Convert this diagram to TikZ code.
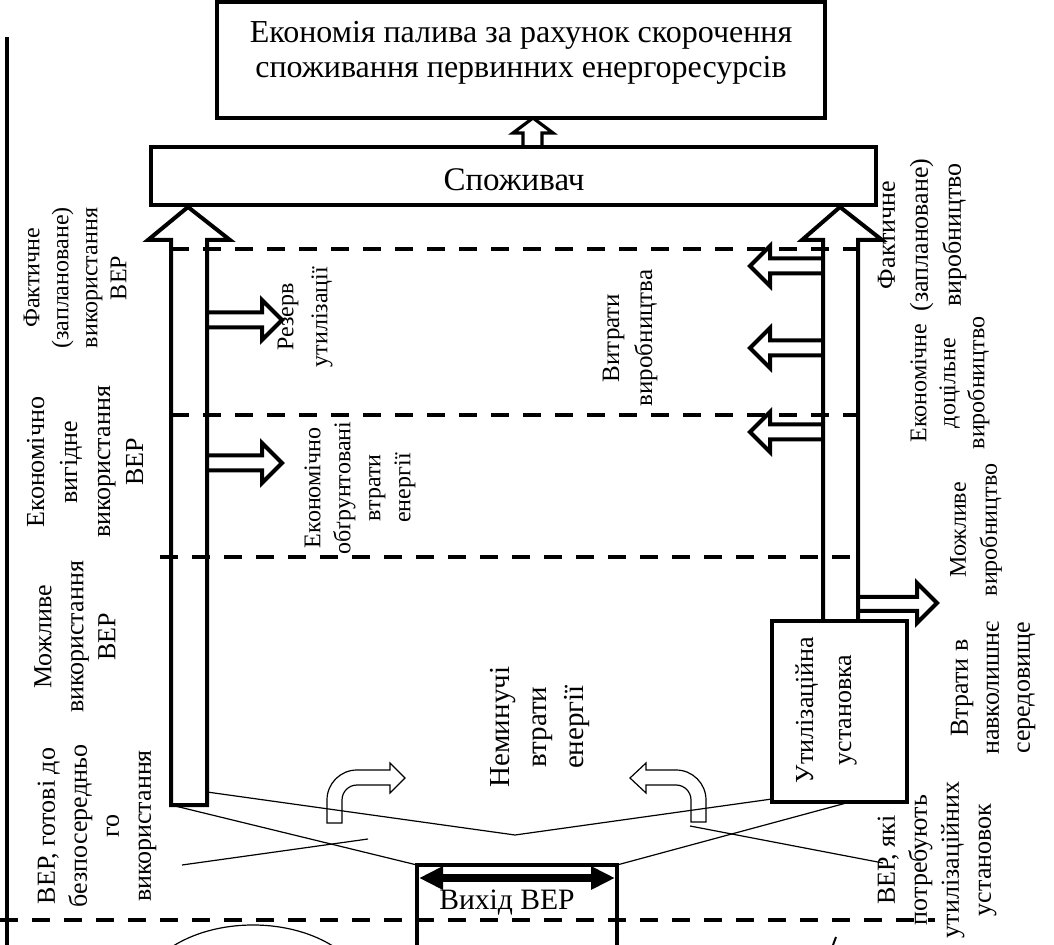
\documentclass[tikz,border=0pt]{standalone}
\usepackage{fontspec}
\setmainfont{Liberation Serif}
\usetikzlibrary{arrows.meta}

\newcommand{\fs}[2]{\fontsize{#1}{#2}\selectfont}

\tikzset{
  thickline/.style={line width=2pt},
  thinline/.style={line width=0.6pt},
  levelline/.style={line width=2.2pt, dash pattern=on 9pt off 7pt},
  box/.style={draw, line width=2.2pt, inner sep=0pt},
  vlabel/.style={rotate=90, align=center, inner sep=0pt},
}

\begin{document}
\begin{tikzpicture}[x=0.5pt,y=-0.5pt]
        \useasboundingbox (0,0) rectangle (1054,945);

        % boxes
        \node[box, minimum width=304pt, minimum height=58pt] (econ) at (521,60) {};
        \node[align=center, font=\fs{16}{17.5}] (econtext) at (521,53)
            {Економія палива за рахунок скорочення\\споживання первинних енергоресурсів};
        \node[box, minimum width=362.5pt, minimum height=29pt] (consumer) at (513.5,176) {};
        \node[font=\fs{16.5}{18}] (consumertext) at (514,180) {Споживач};
        \node[box, minimum width=67.5pt, minimum height=90.5pt] (util) at (839.5,711.5) {};
        \node[vlabel, font=\fs{13}{19}] (utiltext) at (826,710) {Утилізаційна\\установка};

        % left frame line
        \draw[thickline] (7,37) -- (7,945);

        % level lines
        \draw[levelline] (171,249) -- (860,249);
        \draw[levelline] (171,415) -- (860,415);
        \draw[levelline] (160,557) -- (850,557);
        \draw[levelline] (0,920) -- (935,920);

        % small arrow up to the top box
        \draw[line width=1.6pt] (523,145) -- (523,133) -- (513,133) -- (533,118) -- (553,133) -- (542,133) -- (542,145);

        % big arrows
        \draw[thickline] (171,805) -- (171,240) -- (148,240) -- (188,207) -- (230,240) -- (207,240) -- (207,805) -- cycle;
        \draw[thickline] (823,621) -- (823,240) -- (802,240) -- (840,207) -- (882,240) -- (858,240) -- (858,621);

        % side arrows
        \foreach \c in {320,463}
            \draw[thickline] (207,\c-7.5) -- (262,\c-7.5) -- (262,\c-20) -- (282,\c) -- (262,\c+20) -- (262,\c+7.5) -- (207,\c+7.5);
        \foreach \c in {266,348,432}
            \draw[thickline] (823,\c-7.5) -- (770,\c-7.5) -- (770,\c-20) -- (750,\c) -- (770,\c+20) -- (770,\c+7.5) -- (823,\c+7.5);
        \draw[thickline] (858,597) -- (917,597) -- (917,583) -- (937,603) -- (917,623) -- (917,611) -- (858,611);

        % bent arrows
        \draw[thinline] (327,823) -- (327,800) arc[start angle=180, end angle=270, radius=30] -- (390,770) -- (390,763) -- (405,778)
            -- (390,793) -- (390,785) -- (357,785) arc[start angle=270, end angle=180, radius=15] -- (342,823) -- cycle;
        \draw[thinline] (706,822) -- (706,800) arc[start angle=0, end angle=-90, radius=30] -- (646,770) -- (646,763) -- (630,778)
            -- (646,793) -- (646,785) -- (676,785) arc[start angle=-90, end angle=0, radius=15] -- (691,822) -- cycle;

        % output block
        \coordinate (outL) at (417,865);
        \coordinate (outR) at (617,865);
        \draw[thickline] (417,945) -- (outL) -- (outR) -- (617,945);
        \draw[line width=4pt, {Triangle[length=12pt,width=11pt]}-{Triangle[length=12pt,width=11pt]}] (419,878) -- (615,878);
        \node[font=\fs{14.8}{16}] (outtext) at (507,903) {Вихід ВЕР};

        % funnel lines
        \coordinate (lbot) at (171,805);
        \coordinate (rside) at (207,792);
        \coordinate (vtip) at (515,835);
        \coordinate (utilL) at (772,799);
        \coordinate (utilB) at (850,802);
        \draw[thinline] (lbot) -- (outL);
        \draw[thinline] (rside) -- (vtip) -- (utilL);
        \draw[thinline] (outR) -- (utilB);
        \draw[thinline] (182,865) -- (368,839);
        \draw[thinline] (690,826) -- (883,863);

        % cut ellipse
        \begin{scope}
            \clip (0,0) rectangle (1054,945);
            \draw[thinline] (253,1000) ellipse [x radius=115, y radius=75];
            \draw[line width=1pt] (833,945) -- (836,937);
        \end{scope}

        % labels
        \node[vlabel, font=\fs{12}{14.5}] (factuse) at (75,278) {Фактичне\\(заплановане)\\використання\\ВЕР};
        \node[vlabel, font=\fs{13}{16.5}] (econuse) at (85,462) {Економічно\\вигідне\\використання\\ВЕР};
        \node[vlabel, font=\fs{13}{16}] (possuse) at (75,637) {Можливе\\використання\\ВЕР};
        \node[vlabel, font=\fs{13}{16}] (readyuse) at (97,826) {ВЕР, готові до\\безпосередньо\\го\\використання};
        \node[vlabel, font=\fs{12}{17}] (reserve) at (305,317) {Резерв\\утилізації};
        \node[vlabel, font=\fs{12}{15}] (justloss) at (360,488) {Економічно\\обґрунтовані\\втрати\\енергії};
        \node[vlabel, font=\fs{12.5}{16.5}] (prodcost) at (630,338) {Витрати\\виробництва};
        \node[vlabel, font=\fs{14.5}{18.5}] (unavoid) at (540,727) {Неминучі\\втрати\\енергії};
        \node[vlabel, font=\fs{13}{16.5}] (factprod) at (922,235) {Фактичне\\(заплановане)\\виробництво};
        \node[vlabel, font=\fs{12}{14.5}] (econprod) at (950,383) {Економічне\\доцільне\\виробництво};
        \node[vlabel, font=\fs{12}{15.5}] (possprod) at (976,530) {Можливе\\виробництво};
        \node[vlabel, font=\fs{13}{15.5}] (envloss) at (993,688) {Втрати в\\навколишнє\\середовище};
        \node[vlabel, font=\fs{13}{16}] (needutil) at (937,860) {ВЕР, які\\потребують\\утилізаційних\\установок};
    \end{tikzpicture}
\end{document}
